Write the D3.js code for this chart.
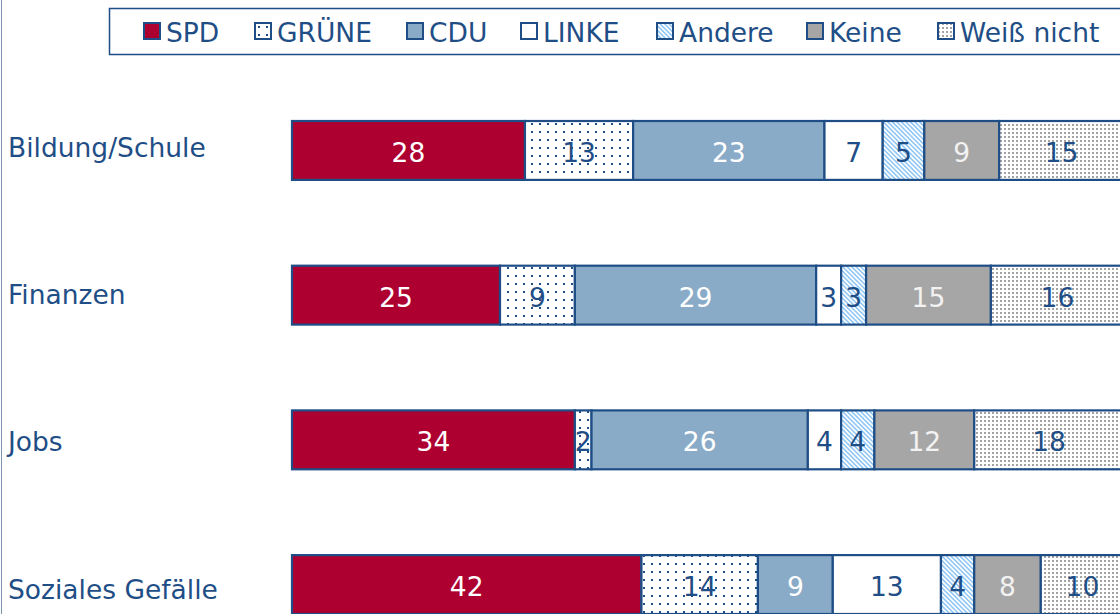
<!DOCTYPE html>
<html>
<head>
<meta charset="utf-8">
<script src="https://cdn.jsdelivr.net/npm/d3@7"></script>
<style>
	body { margin: 0; background: #fff; }
	svg { display: block; font-family: "DejaVu Sans", Verdana, sans-serif; }
</style>
</head>
<body>
<div id="chart"></div>
<script>
(function () {
	var categories = ['Bildung/Schule', 'Finanzen', 'Jobs', 'Soziales Gefälle'];
	var parties = ['SPD', 'GRÜNE', 'CDU', 'LINKE', 'Andere', 'Keine', 'Weiß nicht'];

	var spd = [28, 25, 34, 42];
	var gruene = [13, 9, 2, 14];
	var cdu = [23, 29, 26, 9];
	var linke = [7, 3, 4, 13];
	var andere = [5, 3, 4, 4];
	var keine = [9, 15, 12, 8];
	var weissNicht = [15, 16, 18, 10];

	var seriesValues = [spd, gruene, cdu, linke, andere, keine, weissNicht];

	var width = 1120, height = 614;
	var navy = '#1f4e86';

	// fill and label colour per party
	var fills = ['#ae0030', 'url(#p-dots)', '#8aabc8', '#ffffff', 'url(#p-stripes)', '#a6a6a6', 'url(#p-grey)'];
	var textColors = ['#ffffff', navy, '#ffffff', navy, navy, '#f2f2f2', navy];

	var rows = categories.map(function(c, i) {
		var obj = { category: c };
		parties.forEach(function(p, j) { obj[p] = seriesValues[j][i]; });
		return obj;
	});

	var stacked = d3.stack().keys(parties)(rows);

	var svg = d3.select('#chart').append('svg')
		.attr('width', width)
		.attr('height', height);

	var defs = svg.append('defs');

	var dots = defs.append('pattern')
		.attr('id', 'p-dots')
		.attr('patternUnits', 'userSpaceOnUse')
		.attr('width', 8).attr('height', 8);
	dots.append('rect').attr('width', 8).attr('height', 8).attr('fill', '#fff');
	dots.append('rect').attr('x', 3).attr('y', 3).attr('width', 2).attr('height', 2).attr('fill', navy);

	var stripes = defs.append('pattern')
		.attr('id', 'p-stripes')
		.attr('patternUnits', 'userSpaceOnUse')
		.attr('width', 3.2).attr('height', 3.2)
		.attr('patternTransform', 'rotate(-45)');
	stripes.append('rect').attr('width', 3.2).attr('height', 3.2).attr('fill', '#fff');
	stripes.append('rect').attr('width', 1.6).attr('height', 3.2).attr('fill', '#94c8f7');

	var grey = defs.append('pattern')
		.attr('id', 'p-grey')
		.attr('patternUnits', 'userSpaceOnUse')
		.attr('width', 4).attr('height', 4);
	grey.append('rect').attr('width', 4).attr('height', 4).attr('fill', '#fff');
	grey.append('rect').attr('width', 2).attr('height', 2).attr('fill', '#a3a3a3');

	var x = d3.scaleLinear()
		.domain([0, 100])
		.range([292, 1124]);

	var y = d3.scaleBand()
		.domain(categories)
		.range([121, 614])
		.paddingInner(0.593)
		.paddingOuter(0);

	// category labels sit on their own, slightly wider spacing
	var yLabel = d3.scalePoint()
		.domain(categories)
		.range([147, 589]);

	// frame line on the left
	svg.append('line')
		.attr('x1', 1.5).attr('x2', 1.5)
		.attr('y1', 0).attr('y2', height)
		.attr('stroke', '#7d93b2')
		.attr('stroke-width', 1);

	// legend
	var legendY = 31;
	var legendX = [144, 255, 407, 521, 657, 807, 938];

	svg.append('rect')
		.attr('x', 109.5).attr('y', 8.5)
		.attr('width', 1040).attr('height', 46)
		.attr('fill', '#fff')
		.attr('stroke', navy)
		.attr('stroke-width', 1.5);

	var legend = svg.selectAll('.legend-item')
		.data(parties)
		.enter()
		.append('g')
		.attr('class', 'legend-item')
		.attr('transform', function(d, i) { return 'translate(' + legendX[i] + ',' + legendY + ')'; });

	legend.append('rect')
		.attr('x', 0).attr('y', -8)
		.attr('width', 16).attr('height', 16)
		.attr('fill', function(d, i) { return fills[i]; })
		.attr('stroke', navy)
		.attr('stroke-width', 2);

	legend.append('text')
		.attr('x', 22)
		.attr('y', 1)
		.attr('dy', '0.36em')
		.attr('font-size', 26.5)
		.attr('fill', navy)
		.text(function(d) { return d; });

	svg.selectAll('.cat-label')
		.data(categories)
		.enter()
		.append('text')
		.attr('class', 'cat-label')
		.attr('x', 8)
		.attr('y', function(d) { return yLabel(d); })
		.attr('dy', '0.36em')
		.attr('font-size', 26.5)
		.attr('fill', navy)
		.text(function(d) { return d; });

	// bars
	var groups = svg.selectAll('.series')
		.data(stacked)
		.enter()
		.append('g')
		.attr('class', 'series');

	groups.selectAll('rect')
		.data(function(s) { return s.map(function(d) { return { key: s.key, index: s.index, d: d }; }); })
		.enter()
		.append('rect')
		.attr('x', function(e) { return x(e.d[0]); })
		.attr('y', function(e) { return y(e.d.data.category); })
		.attr('width', function(e) { return x(e.d[1]) - x(e.d[0]); })
		.attr('height', y.bandwidth())
		.attr('fill', function(e) { return fills[e.index]; })
		.attr('stroke', navy)
		.attr('stroke-width', 2.2);

	groups.selectAll('text')
		.data(function(s) { return s.map(function(d) { return { key: s.key, index: s.index, d: d }; }); })
		.enter()
		.append('text')
		.attr('x', function(e) { return (x(e.d[0]) + x(e.d[1])) / 2; })
		.attr('y', function(e) { return y(e.d.data.category) + y.bandwidth() / 2 + 2; })
		.attr('dy', '0.36em')
		.attr('text-anchor', 'middle')
		.attr('font-size', 26.5)
		.attr('fill', function(e) { return textColors[e.index]; })
		.text(function(e) { return e.d[1] - e.d[0]; });

}());
</script>
</body>
</html>
